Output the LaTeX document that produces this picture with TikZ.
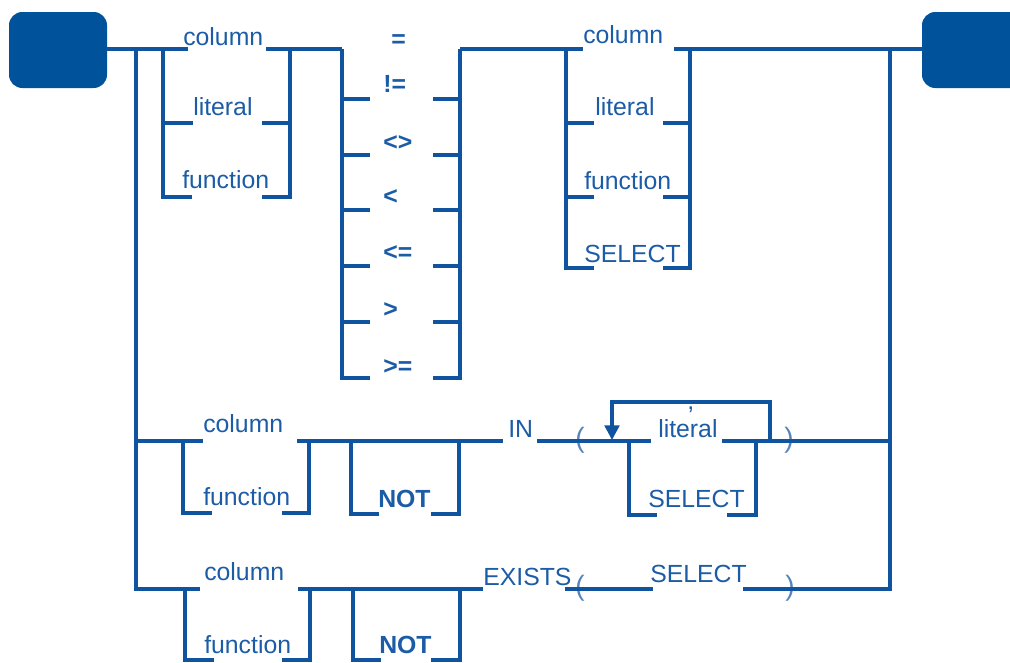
\documentclass[tikz,border=0pt]{standalone}
\usepackage{fontspec}
\setmainfont{Liberation Sans}
\usetikzlibrary{arrows.meta}
\definecolor{rr}{RGB}{16,84,160}
\definecolor{boxc}{RGB}{0,82,155}
\definecolor{txt}{RGB}{28,92,166}
\begin{document}
\begin{tikzpicture}[x=0.75pt,y=-0.75pt,
  rail/.style={draw=rr,line width=2.4pt,line join=miter},
  lab/.style={text=txt,font=\fontsize{18.6}{22}\selectfont,inner sep=0pt,anchor=base west},
  op/.style={lab,font=\bfseries\fontsize{18.6}{22}\selectfont},
  par/.style={lab,text=txt!75,font=\fontsize{21}{24}\selectfont},
  endbox/.style={fill=boxc,rounded corners=10pt}]
\useasboundingbox (0,0) rectangle (1010,662);
\clip (0,0) rectangle (1010,662);
% terminal boxes
\fill[endbox] (9,12) rectangle (107,88);
\fill[endbox] (922,12) rectangle (1040,88);
\coordinate (start) at (107,49);
\coordinate (stop) at (922,49);
% ---------- labels ----------
\node[lab] (c1) at (183,45) {column};
\node[lab] (l1) at (193,115) {literal};
\node[lab] (f1) at (182,188) {function};
\node[op] (o1) at (391,47) {=};
\node[op] (o2) at (383,92) {!=};
\node[op] (o3) at (383,150) {<>};
\node[op] (o4) at (383,204) {<};
\node[op] (o5) at (383,260) {<=};
\node[op] (o6) at (383,317) {>};
\node[op] (o7) at (383,374) {>=};
\node[lab] (c2) at (583,43) {column};
\node[lab] (l2) at (595,115) {literal};
\node[lab] (f2) at (584,189) {function};
\node[lab] (s2) at (584,262) {SELECT};
% IN row
\node[lab] (c3) at (203,432) {column};
\node[lab] (f3) at (203,505) {function};
\node[op] (n3) at (378,507) {NOT};
\node[lab] (in) at (508,437) {IN};
\node[par] (lp3) at (575,447) {(};
\node[lab] (l3) at (658,437) {literal};
\node[lab] (cm) at (687,409) {,};
\node[lab] (s3) at (648,507) {SELECT};
\node[par] (rp3) at (784,447) {)};
% EXISTS row
\node[lab] (c4) at (204,580) {column};
\node[lab] (f4) at (204,653) {function};
\node[op] (n4) at (379,653) {NOT};
\node[lab] (ex) at (483,585) {EXISTS};
\node[par] (lp4) at (575,595) {(};
\node[lab] (s4) at (650,582) {SELECT};
\node[par] (rp4) at (785,595) {)};
% ---------- rails ----------
% main line
\draw[rail] (start) -- (188,49);
\draw[rail] (266,49) -- (342,49);
\draw[rail] (460,49) -- (583,49);
\draw[rail] (674,49) -- (stop);
% first operand group
\draw[rail] (163,49) -- (163,197) -- (192,197);
\draw[rail] (163,123) -- (193,123);
\draw[rail] (262,123) -- (290,123);
\draw[rail] (262,197) -- (290,197) -- (290,49);
% operator group
\draw[rail] (342,49) -- (342,378) -- (370,378);
\foreach \y in {99,155,210,266,322} {
  \draw[rail] (342,\y) -- (370,\y);
  \draw[rail] (433,\y) -- (460,\y);
}
\draw[rail] (433,378) -- (460,378) -- (460,49);
% second operand group
\draw[rail] (566,49) -- (566,268) -- (594,268);
\draw[rail] (566,123) -- (594,123);
\draw[rail] (566,197) -- (594,197);
\draw[rail] (663,123) -- (690,123);
\draw[rail] (663,197) -- (690,197);
\draw[rail] (663,268) -- (690,268) -- (690,49);
% main branches
\draw[rail] (136,49) -- (136,589) -- (200,589);
\draw[rail] (890,49) -- (890,589) -- (743,589);
% IN row
\draw[rail] (136,441) -- (203,441);
\draw[rail] (297,441) -- (503,441);
\draw[rail] (537,441) -- (651,441);
\draw[rail] (722,441) -- (890,441);
\draw[rail] (183,441) -- (183,513) -- (212,513);
\draw[rail] (282,513) -- (309,513) -- (309,441);
\draw[rail] (351,441) -- (351,514) -- (379,514);
\draw[rail] (431,514) -- (459,514) -- (459,441);
\draw[rail] (629,441) -- (629,515) -- (657,515);
\draw[rail] (727,515) -- (756,515) -- (756,441);
\draw[rail,-{Triangle[length=11pt,width=11pt]}] (770,441) -- (770,402) -- (612,402) -- (612,440);
% EXISTS row
\draw[rail] (298,589) -- (483,589);
\draw[rail] (565,589) -- (653,589);
\draw[rail] (185,589) -- (185,660) -- (214,660);
\draw[rail] (282,660) -- (310,660) -- (310,589);
\draw[rail] (353,589) -- (353,660) -- (381,660);
\draw[rail] (431,660) -- (460,660) -- (460,589);
\end{tikzpicture}
\end{document}
